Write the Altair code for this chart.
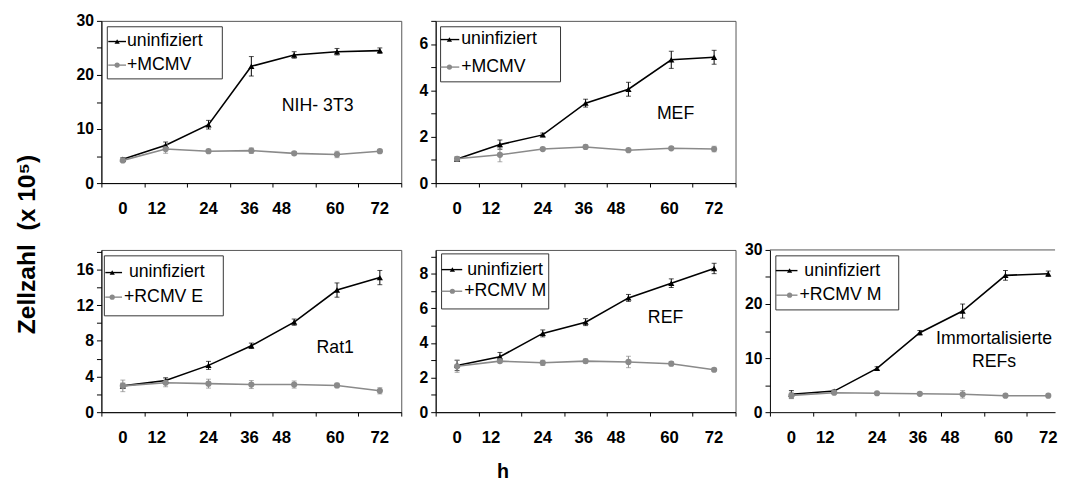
import altair as alt
import pandas as pd

FONT = "Liberation Sans"
BLACK = "#000000"
GRAY = "#8a8a8a"
BORDER = "#555555"

hours = [0, 12, 24, 36, 48, 60, 72]
hour_labels = ["0", "12", "24", "36", "48", "60", "72"]
label_hours = [0, 9.5, 24, 35.5, 44.5, 59.5, 72]

# NIH-3T3
nih_uninf = [4.4, 7.0, 10.8, 21.6, 23.7, 24.3, 24.5]
nih_uninf_err = [0.3, 0.6, 0.8, 1.8, 0.6, 0.6, 0.5]
nih_mcmv = [4.2, 6.3, 5.9, 6.0, 5.5, 5.3, 5.9]
nih_mcmv_err = [0.3, 0.8, 0.3, 0.5, 0.3, 0.6, 0.3]
# MEF
mef_uninf = [1.04, 1.66, 2.08, 3.45, 4.05, 5.32, 5.43]
mef_uninf_err = [0.08, 0.2, 0.08, 0.17, 0.3, 0.37, 0.3]
mef_mcmv = [1.05, 1.22, 1.47, 1.56, 1.42, 1.5, 1.47]
mef_mcmv_err = [0.1, 0.3, 0.05, 0.08, 0.05, 0.05, 0.12]
# Rat1
rat_uninf = [2.95, 3.55, 5.25, 7.45, 10.1, 13.7, 15.1]
rat_uninf_err = [0.3, 0.3, 0.45, 0.3, 0.35, 0.8, 0.8]
rat_rcmv = [2.95, 3.3, 3.2, 3.1, 3.1, 3.0, 2.4]
rat_rcmv_err = [0.65, 0.45, 0.5, 0.45, 0.4, 0.25, 0.35]
# REF
ref_uninf = [2.7, 3.2, 4.55, 5.2, 6.6, 7.45, 8.3]
ref_uninf_err = [0.3, 0.25, 0.2, 0.2, 0.2, 0.25, 0.3]
ref_rcmv = [2.65, 2.95, 2.85, 2.95, 2.9, 2.8, 2.45]
ref_rcmv_err = [0.35, 0.1, 0.15, 0.12, 0.33, 0.12, 0.08]
# Immortalisierte REFs
imm_uninf = [3.3, 3.9, 8.1, 14.7, 18.7, 25.3, 25.6]
imm_uninf_err = [0.7, 0.2, 0.3, 0.4, 1.3, 0.9, 0.5]
imm_rcmv = [3.1, 3.6, 3.5, 3.4, 3.3, 3.05, 3.05]
imm_rcmv_err = [0.6, 0.2, 0.1, 0.1, 0.7, 0.1, 0.1]

H = 165


def make_panel(uninf, uninf_err, inf, inf_err, labels, ymax, ystep, ymajor,
               width, xmax, ann, leg, ytitle=None, xtitle=None, open_right=False):
    xticks = [v for v in range(-6, 79, 12) if v <= xmax]
    if xtitle:
        xaxis = alt.Axis(values=xticks, labels=False, tickSize=4, title=xtitle[0],
                         titleX=xtitle[1], titleY=xtitle[2], titleFontSize=20,
                         titleFontWeight="bold", titleBaseline="middle",
                         titleAlign="center")
    else:
        xaxis = alt.Axis(values=xticks, labels=False, tickSize=4, title=None)
    yvals = []
    k = 0
    while k * ystep <= ymax + 1e-9:
        yvals.append(round(k * ystep, 6))
        k += 1
    lexpr = f"datum.value % {ymajor} == 0 ? datum.label : ''"
    if ytitle:
        yaxis = alt.Axis(values=yvals, labelExpr=lexpr, tickSize=5, labelPadding=3,
                         title=ytitle[0], titleX=ytitle[1], titleY=ytitle[2],
                         titleAngle=270, titleFontSize=25, titleFontWeight="bold",
                         titleBaseline="middle", titleAlign="center")
    else:
        yaxis = alt.Axis(values=yvals, labelExpr=lexpr, tickSize=5, labelPadding=3,
                         title=None)
    xs = alt.Scale(domain=[-6, xmax], nice=False, zero=False)
    ys = alt.Scale(domain=[0, ymax], nice=False, zero=True)

    def X(f="t"):
        return alt.X(f"{f}:Q", scale=xs, axis=xaxis)

    def Y(f="v"):
        return alt.Y(f"{f}:Q", scale=ys, axis=yaxis)

    layers = []
    series = [(uninf, uninf_err, BLACK, "triangle-up"), (inf, inf_err, GRAY, "circle")]
    for vals, errs, col, shp in series:
        df = pd.DataFrame({"t": hours, "v": vals, "e": errs})
        df["lo"] = df["v"] - df["e"]
        df["hi"] = df["v"] + df["e"]
        layers.append(alt.Chart(df).mark_line(color=col, strokeWidth=1.6)
                      .encode(x=X(), y=Y()))
        layers.append(alt.Chart(df[df["e"] > 0]).mark_errorbar(
            ticks=True, size=5, thickness=1, color=col)
            .encode(x=X(), y=Y("lo"), y2="hi:Q"))
    for vals, errs, col, shp in series:
        df = pd.DataFrame({"t": hours, "v": vals})
        layers.append(alt.Chart(df).mark_point(shape=shp, filled=True, size=40,
                                               opacity=1, color=col)
                      .encode(x=X(), y=Y()))
    # panel caption
    adf = pd.DataFrame({"t": [a[1] for a in ann], "v": [a[2] for a in ann],
                        "label": [a[0] for a in ann]})
    layers.append(alt.Chart(adf).mark_text(font=FONT, fontSize=18, align="center",
                                           baseline="middle", color=BLACK)
                  .encode(x=X(), y=Y(), text="label:N"))
    # hour labels under the axis
    ldf = pd.DataFrame({"t": label_hours, "lab": hour_labels})
    ldf = ldf[ldf["t"] <= xmax + 2]
    layers.append(alt.Chart(ldf).mark_text(font=FONT, fontSize=17, fontWeight="bold",
                                           align="center", baseline="middle",
                                           color=BLACK)
                  .encode(x=X(), y=alt.value(H + 26), text="lab:N"))
    if open_right:
        one = pd.DataFrame({"a": [0]})
        layers.append(alt.Chart(one).mark_rule(color=BORDER, strokeWidth=1)
                      .encode(x=alt.value(0), x2=alt.value(width), y=alt.value(0)))
    # legend box
    bx0, by0, bx1, by1 = leg["box"]
    one = pd.DataFrame({"a": [0]})
    layers.append(alt.Chart(one).mark_rect(fill="white", stroke="#333333",
                                           strokeWidth=1)
                  .encode(x=alt.value(bx0), x2=alt.value(bx1),
                          y=alt.value(by0), y2=alt.value(by1)))
    for i, (vals, errs, col, shp) in enumerate(series):
        ry = leg["rows"][i]
        layers.append(alt.Chart(one).mark_rule(color=col, strokeWidth=1.4)
                      .encode(x=alt.value(leg["sym"][0]), x2=alt.value(leg["sym"][1]),
                              y=alt.value(ry)))
        layers.append(alt.Chart(one).mark_point(shape=shp, filled=True, size=28,
                                                opacity=1, color=col)
                      .encode(x=alt.value(leg["mark"]), y=alt.value(ry)))
        tdf = pd.DataFrame({"label": [labels[i]]})
        layers.append(alt.Chart(tdf).mark_text(font=FONT, fontSize=18, align="left",
                                               baseline="middle", color=BLACK)
                      .encode(x=alt.value(leg["text"][i]), y=alt.value(ry),
                              text="label:N"))
    ch = alt.layer(*layers).properties(width=width, height=H)
    if open_right:
        ch = ch.properties(view=alt.ViewBackground(strokeOpacity=0))
    return ch


p1 = make_panel(nih_uninf, nih_uninf_err, nih_mcmv, nih_mcmv_err,
                ["uninfiziert", "+MCMV"], 30, 5, 10, 305, 78,
                [("NIH- 3T3", 54.6, 14.2)],
                {"box": (6, 6, 123, 59), "rows": (21, 45), "sym": (7, 25),
                 "mark": 16, "text": (26, 26)})
p2 = make_panel(mef_uninf, mef_uninf_err, mef_mcmv, mef_mcmv_err,
                ["uninfiziert", "+MCMV"], 7, 1, 2, 305, 78,
                [("MEF", 61.2, 2.97)],
                {"box": (5, 6, 127, 62), "rows": (19, 47), "sym": (5, 24),
                 "mark": 14, "text": (26, 26)})
p3 = make_panel(rat_uninf, rat_uninf_err, rat_rcmv, rat_rcmv_err,
                ["uninfiziert", "+RCMV E"], 18.2, 2, 4, 305, 78,
                [("Rat1", 59.5, 7.17)],
                {"box": (3, 6, 124, 67), "rows": (23, 48), "sym": (4, 21),
                 "mark": 11, "text": (28, 23)},
                ytitle=("Zellzahl\u00a0 (x 10\u2075)", -76, -6))
p4 = make_panel(ref_uninf, ref_uninf_err, ref_rcmv, ref_rcmv_err,
                ["uninfiziert", "+RCMV M"], 9.37, 1, 2, 305, 78,
                [("REF", 58.4, 5.45)],
                {"box": (6, 4, 115, 60), "rows": (20, 42), "sym": (6, 27),
                 "mark": 17, "text": (32, 29)},
                xtitle=("h", 68, 60))
p5 = make_panel(imm_uninf, imm_uninf_err, imm_rcmv, imm_rcmv_err,
                ["uninfiziert", "+RCMV M"], 30, 5, 10, 290, 73.9,
                [("Immortalisierte", 56.8, 13.6), ("REFs", 56.8, 9.3)],
                {"box": (6, 6, 131, 61), "rows": (21, 46), "sym": (6, 28),
                 "mark": 20, "text": (35, 30)},
                open_right=True)

blank = alt.Chart(pd.DataFrame({"a": [0]})).mark_point(opacity=0).encode(
    x=alt.X("a:Q", axis=None), y=alt.Y("a:Q", axis=None)
).properties(width=10, height=10, view=alt.ViewBackground(strokeOpacity=0))

chart = alt.concat(p1, p2, blank, p3, p4, p5, columns=3,
                   spacing={"row": 68, "column": 35}, bounds="flush").properties(
    padding={"left": 6, "top": 0, "right": 0, "bottom": 0}
).configure_view(stroke=BORDER, strokeWidth=1).configure_axis(
    labelFont=FONT, labelFontSize=16, labelFontWeight="bold", labelColor=BLACK,
    domainColor=BLACK, tickColor=BLACK, grid=False, titleFont=FONT,
    titleColor=BLACK
)

chart.save("out.html", embed_options={"renderer": "svg", "actions": False})
